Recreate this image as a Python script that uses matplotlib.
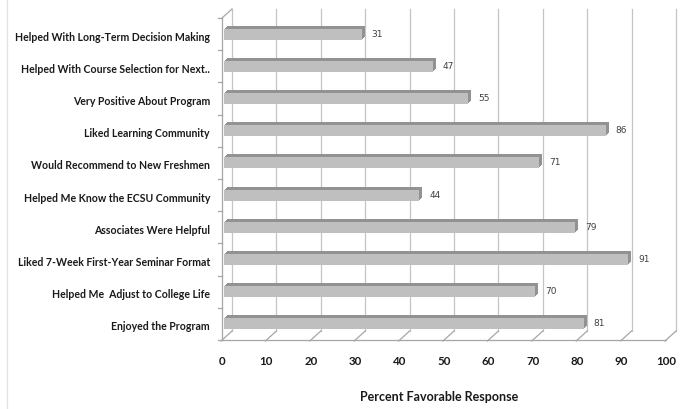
import matplotlib
matplotlib.use('Agg')
import matplotlib.pyplot as plt
from matplotlib.lines import Line2D

categories = [
    'Helped With Long-Term Decision Making',
    'Helped With Course Selection for Next..',
    'Very Positive About Program',
    'Liked Learning Community',
    'Would Recommend to New Freshmen',
    'Helped Me Know the ECSU Community',
    'Associates Were Helpful',
    'Liked 7-Week First-Year Seminar Format',
    'Helped Me  Adjust to College Life',
    'Enjoyed the Program',
]
values = [31, 47, 55, 86, 71, 44, 79, 91, 70, 81]
xticks = [0, 10, 20, 30, 40, 50, 60, 70, 80, 90, 100]
xlabel = 'Percent Favorable Response'

W, H = 683, 410
fig = plt.figure(figsize=(W / 100, H / 100), dpi=100)
# front plane of the 3-D box, in pixels
x0, x1, ytop, ybot = 222, 666, 19, 341
ax = fig.add_axes([x0 / W, 1 - ybot / H, (x1 - x0) / W, (ybot - ytop) / H])
n = len(categories)
ax.set_xlim(0, 100)
ax.set_ylim(n - 0.5, -0.5)
ax.axis('off')

# thin frame line at the left edge of the chart area
fig.add_artist(Line2D([6.5 / W, 6.5 / W], [0, 1], color='#e2e2e2', lw=0.9))

# pixel -> data unit helpers
ux = (x1 - x0) / 100.0
uy = (ybot - ytop) / n
def dx(px):
    return px / ux
def dy(px):
    return px / uy

grid_c = '#c4c4c4'
axis_c = '#a6a6a6'
depth_x, depth_y = dx(10), dy(9)

# back wall gridlines
for t in xticks:
    ax.plot([t + depth_x] * 2, [n - 0.5 - depth_y, -0.5 - depth_y],
            color=grid_c, lw=0.9, clip_on=False, zorder=1)
    # floor diagonals
    ax.plot([t - dx(1), t + depth_x], [n - 0.5 + dy(1), n - 0.5 - depth_y],
            color=axis_c, lw=0.9, clip_on=False, zorder=1)

# left wall and floor front edge
ax.plot([0, 0], [-0.5, n - 0.5], color=axis_c, lw=0.9, clip_on=False)
ax.plot([0, depth_x], [-0.5, -0.5 - depth_y], color=axis_c, lw=0.9, clip_on=False)
ax.plot([0, 100], [n - 0.5, n - 0.5], color=axis_c, lw=0.9, clip_on=False)
for b in range(n + 1):
    ax.plot([-dx(4), 0], [b - 0.5, b - 0.5], color=axis_c, lw=0.9, clip_on=False)

# 3-D bars: extruded dark layers, then the front face
ypos = list(range(n))
bar_h = dy(11)
shift = dx(2)
for k in range(1, 4):
    ax.barh([y - dy(k) for y in ypos], values, height=bar_h,
            left=shift + dx(k), color='#929292', lw=0, zorder=3)
ax.barh(ypos, values, height=bar_h, left=shift, color='#bfbfbf',
        lw=0, zorder=4)

for y, v in zip(ypos, values):
    ax.text(v + shift + dx(10), y - dy(1), str(v), fontsize=6.5,
            color='#404040', va='center', ha='left', family='DejaVu Sans')

# category labels
for y, c in zip(ypos, categories):
    ax.text(-dx(12), y + dy(2), c, fontsize=7.6, fontweight='bold',
            family='Lato', ha='right', va='center', color='#1a1a1a')

# x tick labels and title
for t in xticks:
    ax.text(t, n - 0.5 + dy(21), str(t), fontsize=8.3, fontweight='bold',
            family='Lato', ha='center', va='center', color='#1a1a1a')
ax.text(49, n - 0.5 + dy(56), xlabel, fontsize=9, fontweight='bold',
        family='Lato', ha='center', va='center', color='#1a1a1a')

fig.savefig('out.png', dpi=100)
